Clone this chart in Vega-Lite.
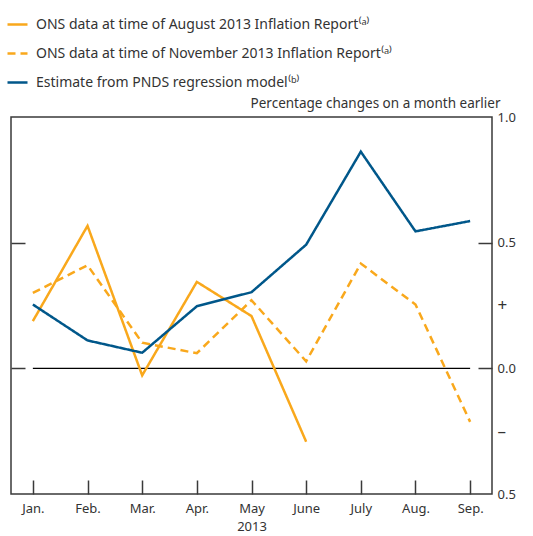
{
  "$schema": "https://vega.github.io/schema/vega-lite/v6.json",
  "width": 481,
  "height": 377,
  "autosize": {"type": "none"},
  "padding": {"left": 11, "top": 117, "right": 41, "bottom": 42},
  "config": {
    "font": "Noto Sans",
    "view": {"stroke": "#3a3a3a", "strokeWidth": 1.5},
    "axis": {
      "labelFont": "Noto Sans", "titleFont": "Noto Sans", "labelColor": "#333333", "titleColor": "#333333",
      "titleFontWeight": "normal", "grid": false, "domain": false, "tickColor": "#3a3a3a", "tickWidth": 1.5,
      "labelFontSize": 13, "titleFontSize": 13
    },
    "legend": {
      "orient": "none", "legendX": -5, "legendY": -104, "symbolType": "stroke", "symbolSize": 400,
      "symbolStrokeWidth": 2.5, "labelFontSize": 14, "labelColor": "#333333", "labelFont": "Noto Sans",
      "rowPadding": 10, "labelLimit": 0, "labelOffset": 7
    }
  },
  "data": {"values": [
    {"month": "Jan.", "series": "ONS data at time of August 2013 Inflation Report⁽ᵃ⁾", "value": 0.188},
    {"month": "Feb.", "series": "ONS data at time of August 2013 Inflation Report⁽ᵃ⁾", "value": 0.567},
    {"month": "Mar.", "series": "ONS data at time of August 2013 Inflation Report⁽ᵃ⁾", "value": -0.028},
    {"month": "Apr.", "series": "ONS data at time of August 2013 Inflation Report⁽ᵃ⁾", "value": 0.344},
    {"month": "May", "series": "ONS data at time of August 2013 Inflation Report⁽ᵃ⁾", "value": 0.208},
    {"month": "June", "series": "ONS data at time of August 2013 Inflation Report⁽ᵃ⁾", "value": -0.292},
    {"month": "Jan.", "series": "ONS data at time of November 2013 Inflation Report⁽ᵃ⁾", "value": 0.300},
    {"month": "Feb.", "series": "ONS data at time of November 2013 Inflation Report⁽ᵃ⁾", "value": 0.410},
    {"month": "Mar.", "series": "ONS data at time of November 2013 Inflation Report⁽ᵃ⁾", "value": 0.102},
    {"month": "Apr.", "series": "ONS data at time of November 2013 Inflation Report⁽ᵃ⁾", "value": 0.060},
    {"month": "May", "series": "ONS data at time of November 2013 Inflation Report⁽ᵃ⁾", "value": 0.271},
    {"month": "June", "series": "ONS data at time of November 2013 Inflation Report⁽ᵃ⁾", "value": 0.028},
    {"month": "July", "series": "ONS data at time of November 2013 Inflation Report⁽ᵃ⁾", "value": 0.417},
    {"month": "Aug.", "series": "ONS data at time of November 2013 Inflation Report⁽ᵃ⁾", "value": 0.254},
    {"month": "Sep.", "series": "ONS data at time of November 2013 Inflation Report⁽ᵃ⁾", "value": -0.213},
    {"month": "Jan.", "series": "Estimate from PNDS regression model⁽ᵇ⁾", "value": 0.254},
    {"month": "Feb.", "series": "Estimate from PNDS regression model⁽ᵇ⁾", "value": 0.111},
    {"month": "Mar.", "series": "Estimate from PNDS regression model⁽ᵇ⁾", "value": 0.062},
    {"month": "Apr.", "series": "Estimate from PNDS regression model⁽ᵇ⁾", "value": 0.247},
    {"month": "May", "series": "Estimate from PNDS regression model⁽ᵇ⁾", "value": 0.303},
    {"month": "June", "series": "Estimate from PNDS regression model⁽ᵇ⁾", "value": 0.492},
    {"month": "July", "series": "Estimate from PNDS regression model⁽ᵇ⁾", "value": 0.862},
    {"month": "Aug.", "series": "Estimate from PNDS regression model⁽ᵇ⁾", "value": 0.545},
    {"month": "Sep.", "series": "Estimate from PNDS regression model⁽ᵇ⁾", "value": 0.586}
  ]},
  "encoding": {
    "x": {
      "field": "month", "type": "ordinal",
      "scale": {"type": "point", "domain": ["Jan.", "Feb.", "Mar.", "Apr.", "May", "June", "July", "Aug.", "Sep."], "padding": 0.4},
      "axis": {"orient": "bottom", "tickSize": -14, "labelAngle": 0, "labelPadding": 22, "title": "2013", "titlePadding": 5}
    }
  },
  "layer": [
    {
      "data": {"values": [{"month": "Jan.", "month2": "Sep.", "value": 0}]},
      "mark": {"type": "rule", "color": "#000000", "strokeWidth": 1.2},
      "encoding": {
        "x2": {"field": "month2"},
        "y": {
          "field": "value", "type": "quantitative",
          "scale": {"domain": [-0.5, 1], "nice": false, "zero": false},
          "axis": {"orient": "left", "values": [0.5, 0], "tickSize": -14, "labels": false, "title": null}
        }
      }
    },
    {
      "mark": {"type": "line", "strokeWidth": 2.5},
      "encoding": {
        "y": {
          "field": "value", "type": "quantitative",
          "scale": {"domain": [-0.5, 1], "nice": false, "zero": false},
          "axis": {
            "orient": "right", "values": [1, 0.5, 0.25, 0, -0.25, -0.5], "tickSize": -14,
            "tickOpacity": {"condition": {"test": "datum.value == 0.5 || datum.value == 0", "value": 1}, "value": 0},
            "labelExpr": "datum.value == 1 ? '1.0' : datum.value == 0.5 ? '0.5' : datum.value == 0.25 ? '+' : datum.value == 0 ? '0.0' : datum.value == -0.25 ? '–' : '0.5'",
            "labelFontSize": {"condition": {"test": "datum.value == 0.25 || datum.value == -0.25", "value": 17}, "value": 13},
            "labelPadding": 19,
            "title": "Percentage changes on a month earlier", "titleAngle": 0, "titleX": 8, "titleY": -10,
            "titleFontSize": 13.5,
            "titleAlign": "right", "titleBaseline": "alphabetic"
          }
        },
        "color": {
          "field": "series", "type": "nominal", "title": null,
          "scale": {
            "domain": ["ONS data at time of August 2013 Inflation Report⁽ᵃ⁾", "ONS data at time of November 2013 Inflation Report⁽ᵃ⁾", "Estimate from PNDS regression model⁽ᵇ⁾"],
            "range": ["#F9A81C", "#F9A81C", "#00578A"]
          }
        },
        "strokeDash": {
          "field": "series", "type": "nominal", "title": null,
          "scale": {
            "domain": ["ONS data at time of August 2013 Inflation Report⁽ᵃ⁾", "ONS data at time of November 2013 Inflation Report⁽ᵃ⁾", "Estimate from PNDS regression model⁽ᵇ⁾"],
            "range": [[1, 0], [8, 5], [1, 0]]
          }
        }
      }
    }
  ],
  "resolve": {"axis": {"y": "independent"}}
}
